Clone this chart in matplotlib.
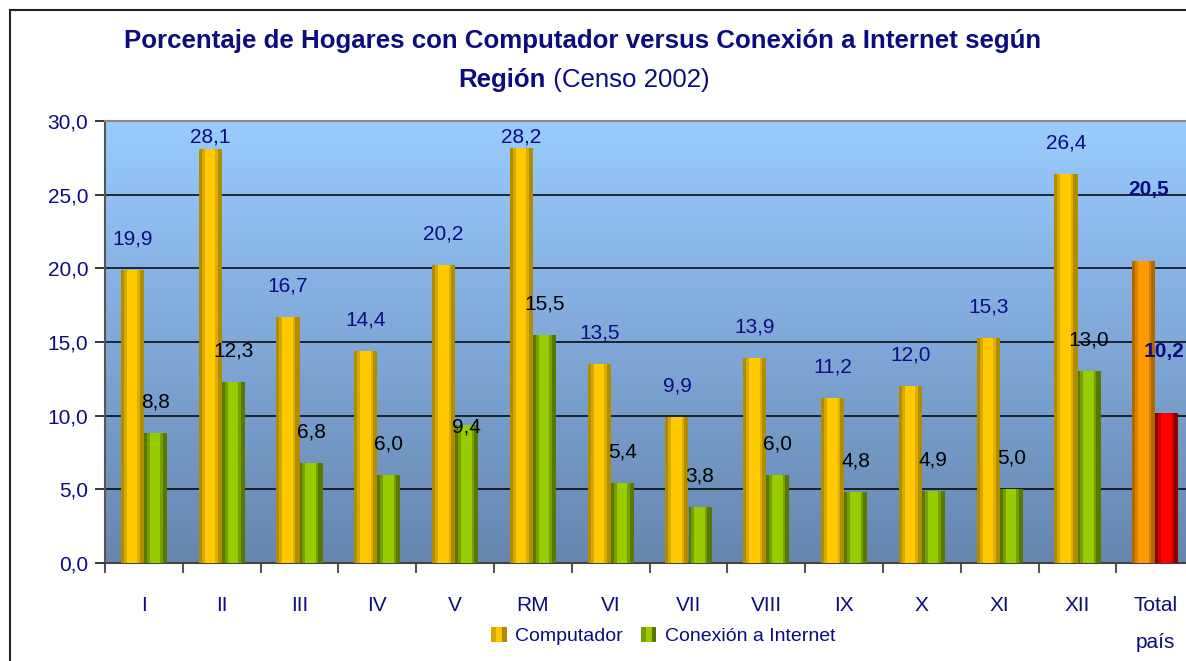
import matplotlib
matplotlib.use('Agg')
import matplotlib.pyplot as plt
import numpy as np
from matplotlib import font_manager
from matplotlib.patches import Rectangle
from matplotlib.lines import Line2D
from matplotlib.legend_handler import HandlerBase
from matplotlib.colors import LinearSegmentedColormap

# ---------------- data ----------------
categories = ['I', 'II', 'III', 'IV', 'V', 'RM', 'VI', 'VII', 'VIII', 'IX',
              'X', 'XI', 'XII', 'Total\npaís']
computador = [19.9, 28.1, 16.7, 14.4, 20.2, 28.2, 13.5, 9.9, 13.9, 11.2,
              12.0, 15.3, 26.4, 20.5]
internet = [8.8, 12.3, 6.8, 6.0, 9.4, 15.5, 5.4, 3.8, 6.0, 4.8, 4.9, 5.0,
            13.0, 10.2]
series_names = ['Computador', 'Conexión a Internet']
yticks = [0, 5, 10, 15, 20, 25, 30]
title_line1 = 'Porcentaje de Hogares con Computador versus Conexión a Internet según'
title_bold2 = 'Región'
title_norm2 = ' (Censo 2002)'

# ---------------- style ----------------
names = {f.name for f in font_manager.fontManager.ttflist}
FONT = 'Liberation Sans Narrow' if 'Liberation Sans Narrow' in names else 'Liberation Sans'
plt.rcParams['font.family'] = [FONT, 'DejaVu Sans']
NAVY = '#0c0c80'

W, H = 1186, 661
fig = plt.figure(figsize=(W / 100, H / 100), dpi=100)
fig.patch.set_facecolor('white')

cat_px = 77.8
ax = fig.add_axes([105 / W, 98 / H, 14 * cat_px / W, 442 / H])
ax.set_xlim(-0.5, 13.5)
ax.set_ylim(0, 30)

# gradient background
grad = np.linspace(0, 1, 256).reshape(-1, 1)
cmap_bg = LinearSegmentedColormap.from_list('bg', ['#6686ae', '#80a8d8', '#99ccff'])
ax.imshow(grad, cmap=cmap_bg, aspect='auto', extent=[-0.5, 13.5, 0, 30],
          origin='lower', zorder=-2, interpolation='bilinear')

yellow = ['#b08c00', '#d6a900', '#ffc800', '#dcae00', '#b08c00']
green = ['#5a7800', '#789f00', '#99cc00', '#789f00', '#5a7800']
orange = ['#b06800', '#d88400', '#ff9900', '#d88400', '#b06800']
red = ['#8a0000', '#cc0000', '#ff0000', '#cc0000', '#8a0000']
fracs = [0.13, 0.13, 0.46, 0.1, 0.18]

bw = 0.296
x = np.arange(len(categories))
n_reg = len(categories) - 1


def striped(lefts, heights, palette):
    off = 0.0
    for c, f in zip(palette, fracs):
        ax.bar(np.asarray(lefts) + off * bw, heights, bw * f, align='edge',
               color=c, linewidth=0, zorder=3)
        off += f


striped(x[:n_reg] - bw, computador[:n_reg], yellow)
striped(x[:n_reg], internet[:n_reg], green)
striped(x[n_reg:] - bw, computador[n_reg:], orange)
striped(x[n_reg:], internet[n_reg:], red)

# grid & spines
ax.set_yticks(yticks)
ax.set_yticklabels([f'{v:.1f}'.replace('.', ',') for v in yticks])
ax.yaxis.grid(True, color='black', linewidth=1.1, zorder=-1)
ax.set_axisbelow(True)
ax.spines['top'].set_color('#8a8a8a')
ax.spines['top'].set_linewidth(1.5)
ax.spines['left'].set_color('#555555')
ax.spines['left'].set_linewidth(1.5)
ax.spines['bottom'].set_color('#444444')
ax.spines['bottom'].set_linewidth(1.5)
ax.spines['right'].set_visible(False)
ax.tick_params(axis='y', direction='out', length=7, width=1.1, color='black',
               labelcolor=NAVY, labelsize=15, pad=5)

ax.set_xticks(np.arange(-0.5, 14, 1.0))
ax.set_xticklabels([])
ax.set_xticks(x, minor=True)
ax.set_xticklabels(categories, minor=True)
ax.tick_params(axis='x', which='major', direction='out', length=7, width=1.5,
               color='#555555')
ax.tick_params(axis='x', which='minor', length=0, pad=24, labelcolor=NAVY,
               labelsize=15)
for lab in ax.get_xticklabels(minor=True):
    lab.set_linespacing(2.2)

# value labels
px_per_unit = 442 / 30
off_units = 31 / px_per_unit
top_cap = 28.9
for i in range(n_reg):
    yc = min(computador[i] + off_units, top_cap)
    ax.text(i - bw / 2, yc, f'{computador[i]:.1f}'.replace('.', ','), ha='center',
            va='center', color=NAVY, fontsize=15, zorder=5)
    yi = internet[i] + off_units
    if categories[i] == 'V':
        yi = internet[i] - 2 / px_per_unit
    ax.text(i + bw / 2, yi, f'{internet[i]:.1f}'.replace('.', ','), ha='center',
            va='center', color='black', fontsize=15, zorder=5)
i = n_reg
ax.text(i - bw / 2 + 0.06, computador[i] + 71 / px_per_unit,
        f'{computador[i]:.1f}'.replace('.', ','), ha='center', va='center',
        color=NAVY, fontsize=15, fontweight='bold', zorder=5)
ax.text(i + bw / 2 - 0.03, internet[i] + 61 / px_per_unit,
        f'{internet[i]:.1f}'.replace('.', ','), ha='center', va='center',
        color=NAVY, fontsize=15, fontweight='bold', zorder=5, clip_on=False)

# title
fig.text(583 / W, 1 - 41 / H, title_line1, ha='center', va='center',
         fontsize=18.6, fontweight='bold', color=NAVY)
r = fig.canvas.get_renderer()
tb = fig.text(0, 1 - 80 / H, title_bold2, ha='left', va='center', fontsize=18.6,
              fontweight='bold', color=NAVY)
tn = fig.text(0, 1 - 80 / H, title_norm2, ha='left', va='center', fontsize=18.6,
              color=NAVY)
wb = tb.get_window_extent(r).width
wn = tn.get_window_extent(r).width
x0 = 584 - (wb + wn) / 2
tb.set_x(x0 / W)
tn.set_x((x0 + wb) / W)


# legend
class StripeHandler(HandlerBase):
    def __init__(self, palette):
        super().__init__()
        self.palette = palette

    def create_artists(self, legend, orig_handle, xdescent, ydescent, width,
                       height, fontsize, trans):
        arts = []
        side = height
        xs = -xdescent + (width - side) / 2
        parts = [0.3, 0.4, 0.3]
        cols = [self.palette[1], self.palette[2], self.palette[0]]
        cx = xs
        for p, c in zip(parts, cols):
            arts.append(Rectangle((cx, -ydescent), side * p, side, facecolor=c,
                                  edgecolor='none', transform=trans))
            cx += side * p
        return arts


h1 = Rectangle((0, 0), 1, 1)
h2 = Rectangle((0, 0), 1, 1)
leg = fig.legend([h1, h2], series_names, loc='center',
                 bbox_to_anchor=(663 / W, 1 - 636 / H), ncol=2, frameon=False,
                 fontsize=14, handlelength=0.85, handleheight=0.85,
                 handletextpad=0.4, columnspacing=0.9,
                 handler_map={h1: StripeHandler(yellow), h2: StripeHandler(green)})
for t in leg.get_texts():
    t.set_color(NAVY)

# outer border (left and top edges visible)
fig.add_artist(Line2D([9.5 / W, 9.5 / W], [0, 1 - 9.5 / H], transform=fig.transFigure,
                      color='#222222', linewidth=1.5))
fig.add_artist(Line2D([9.5 / W, 1], [1 - 9.5 / H, 1 - 9.5 / H], transform=fig.transFigure,
                      color='#222222', linewidth=1.5))

fig.savefig('out.png', dpi=100, facecolor='white')
